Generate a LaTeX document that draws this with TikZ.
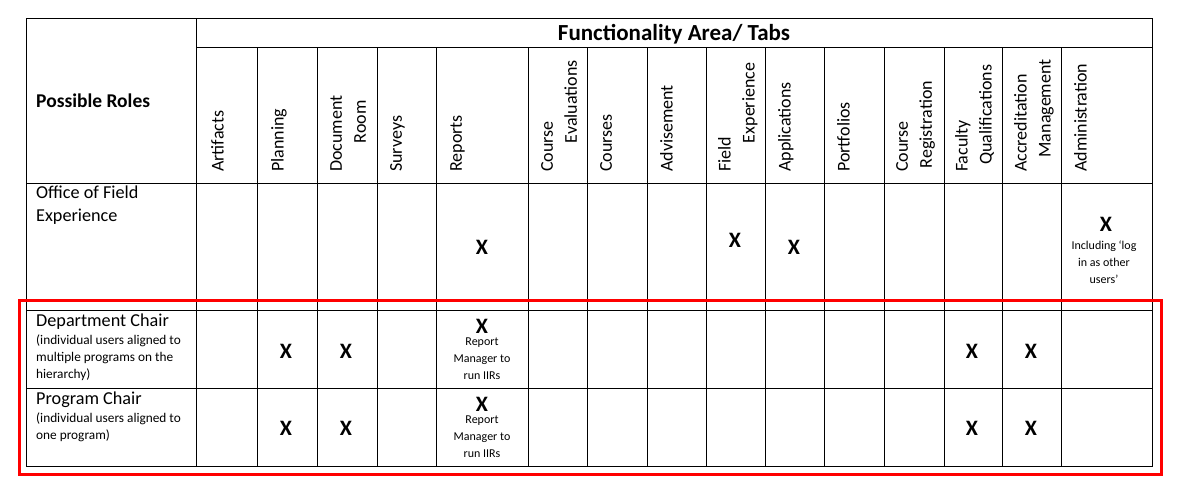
\documentclass[tikz,border=0pt]{standalone}
\usepackage{fontspec}
\setmainfont{Carlito}
\begin{document}
\begin{tikzpicture}[x=1pt,y=-1pt,
  grid/.style={draw=black,line width=0.8pt},
  hd/.style={rotate=90,anchor=north west,align=left,font=\fontsize{18}{24}\selectfont,inner sep=0pt},
  xm/.style={font=\bfseries\fontsize{22}{24}\selectfont},
  sm/.style={font=\fontsize{12}{17}\selectfont,align=center},
  role/.style={anchor=north west,align=left,font=\fontsize{18.2}{23}\selectfont,inner sep=0pt}]
\useasboundingbox (0,0) rectangle (1178,485);
% grid
\draw[grid] (26,18) rectangle (1152,466);
\draw[grid] (196,47) -- (1152,47);
\draw[grid] (26,183) -- (1152,183);
\draw[grid] (26,310) -- (1152,310);
\draw[grid] (26,388) -- (1152,388);
\foreach \x in {257,317,377,436,528,587,647,706,765,824,884,944,1002,1061} \draw[grid] (\x,47) -- (\x,466);
\draw[grid] (196,18) -- (196,466);
% red
\draw[red,line width=3pt] (19,300) rectangle (1161,474);
% header
\node[font=\bfseries\fontsize{23}{26}\selectfont] (title) at (674,34) {Functionality Area/ Tabs};
\node[font=\bfseries\fontsize{19.5}{22}\selectfont,anchor=west,inner sep=0pt] (pr) at (36,101) {Possible Roles};
\node[hd] (h1) at (211,172) {Artifacts};
\node[hd] (h2) at (271,172) {Planning};
\node[hd] (h3) at (330,172) {Document\\\hspace*{1.6em}Room};
\node[hd] (h4) at (390,172) {Surveys};
\node[hd] (h5) at (450,172) {Reports};
\node[hd] (h6) at (541,172) {Course\\\hspace*{1.6em}Evaluations};
\node[hd] (h7) at (600,172) {Courses};
\node[hd] (h8) at (660,172) {Advisement};
\node[hd] (h9) at (718,172) {Field\\\hspace*{1.6em}Experience};
\node[hd] (h10) at (778,172) {Applications};
\node[hd] (h11) at (837,172) {Portfolios};
\node[hd] (h12) at (896,172) {Course\\\hspace*{0.2em}Registration};
\node[hd] (h13) at (955,172) {Faculty\\\hspace*{0.4em}Qualifications};
\node[hd] (h14) at (1014,172) {Accreditation\\\hspace*{0.8em}Management};
\node[hd] (h15) at (1074,172) {Administration};
% roles
\node[role] (r1) at (36,186) {Office of Field\\Experience};
\node[role] (r2) at (36,314) {Department Chair\\[-5pt]{\fontsize{13.3}{17}\selectfont (individual users aligned to}\\[-6pt]{\fontsize{13.3}{17}\selectfont multiple programs on the}\\[-6pt]{\fontsize{13.3}{17}\selectfont hierarchy)}};
\node[role] (r3) at (36,392) {Program Chair\\[-5pt]{\fontsize{13.3}{17}\selectfont (individual users aligned to}\\[-6pt]{\fontsize{13.3}{17}\selectfont one program)}};
% row 1
\node[xm] (a1) at (482,247) {X};
\node[xm] (a2) at (735,240) {X};
\node[xm] (a3) at (794,247) {X};
\node[xm] (a4) at (1106,224) {X};
\node[sm] (a4t) at (1104,262) {Including ‘log\\in as other\\users’};
% row 2
\node[xm] (b1) at (286,351) {X};
\node[xm] (b2) at (346,351) {X};
\node[xm] (b3) at (482,326) {X};
\node[sm] (b3t) at (482,359) {Report\\Manager to\\run IIRs};
\node[xm] (b4) at (972,351) {X};
\node[xm] (b5) at (1031,351) {X};
% row 3
\node[xm] (c1) at (286,428) {X};
\node[xm] (c2) at (346,428) {X};
\node[xm] (c3) at (482,404) {X};
\node[sm] (c3t) at (482,437) {Report\\Manager to\\run IIRs};
\node[xm] (c4) at (972,428) {X};
\node[xm] (c5) at (1031,428) {X};
\end{tikzpicture}
\end{document}
